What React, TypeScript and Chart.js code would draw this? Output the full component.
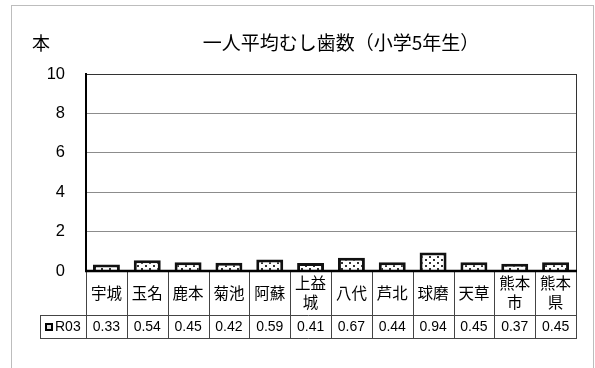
import React, { useEffect, useRef } from "react";
import { Chart, registerables } from "chart.js";

Chart.register(...registerables);

const categories: string[][] = [
  ["宇城"], ["玉名"], ["鹿本"], ["菊池"], ["阿蘇"], ["上益", "城"],
  ["八代"], ["芦北"], ["球磨"], ["天草"], ["熊本", "市"], ["熊本", "県"],
];
const seriesName = "R03";
const values = [0.33, 0.54, 0.45, 0.42, 0.59, 0.41, 0.67, 0.44, 0.94, 0.45, 0.37, 0.45];
const yTicks = [0, 2, 4, 6, 8, 10];
const title = "一人平均むし歯数（小学5年生）";
const yUnit = "本";

const CJK = '"Noto Sans CJK JP", "Noto Sans", sans-serif';
const LAT = '"Liberation Sans", Arial, sans-serif';

function makePattern(): CanvasPattern | string {
  const c = document.createElement("canvas");
  c.width = 8;
  c.height = 6;
  const g = c.getContext("2d");
  if (!g) return "#fff";
  g.fillStyle = "#ffffff";
  g.fillRect(0, 0, 8, 6);
  g.fillStyle = "#333333";
  g.fillRect(1, 1, 2, 2);
  g.fillRect(5, 4, 2, 2);
  const p = g.createPattern(c, "repeat");
  return p || "#fff";
}

const tablePlugin = {
  id: "dataTable",
  afterDraw(chart: any) {
    const ctx: CanvasRenderingContext2D = chart.ctx;
    const { left, right, top, bottom } = chart.chartArea;
    const x = chart.scales.x;
    const n = categories.length;
    const w = (right - left) / n;
    const row1 = bottom + 44;
    const row2 = row1 + 23;
    const legendLeft = 40;

    ctx.save();
    ctx.strokeStyle = "#bdbdbd";
    ctx.lineWidth = 1;
    ctx.strokeRect(11.5, 5.5, 582, 400);

    ctx.strokeStyle = "#333";
    ctx.lineWidth = 1;
    ctx.beginPath();
    ctx.moveTo(right + 0.5, top);
    ctx.lineTo(right + 0.5, bottom);
    ctx.stroke();

    ctx.strokeStyle = "#444";
    ctx.lineWidth = 1;
    ctx.beginPath();
    for (let i = 0; i <= n; i++) {
      const xx = Math.round(left + i * w) + 0.5;
      ctx.moveTo(xx, bottom);
      ctx.lineTo(xx, row2);
    }
    ctx.moveTo(legendLeft + 0.5, row1);
    ctx.lineTo(legendLeft + 0.5, row2);
    ctx.moveTo(legendLeft, row1 + 0.5);
    ctx.lineTo(right + 1, row1 + 0.5);
    ctx.moveTo(legendLeft, row2 + 0.5);
    ctx.lineTo(right + 1, row2 + 0.5);
    ctx.stroke();

    ctx.strokeStyle = "#000";
    ctx.lineWidth = 2.5;
    ctx.beginPath();
    ctx.moveTo(left - 1, bottom);
    ctx.lineTo(right + 1, bottom);
    ctx.stroke();

    ctx.fillStyle = "#000";
    ctx.textAlign = "center";
    ctx.textBaseline = "middle";
    ctx.font = `15.5px ${CJK}`;
    const mid1 = (bottom + row1) / 2;
    categories.forEach((lines, i) => {
      const cx = x.getPixelForValue(i);
      if (lines.length === 1) {
        ctx.fillText(lines[0], cx, mid1);
      } else {
        ctx.fillText(lines[0], cx, mid1 - 9.5);
        ctx.fillText(lines[1], cx, mid1 + 9.5);
      }
    });

    ctx.font = `14px ${LAT}`;
    const mid2 = (row1 + row2) / 2 + 0.5;
    values.forEach((v, i) => {
      ctx.fillText(v.toFixed(2), x.getPixelForValue(i), mid2);
    });

    ctx.fillStyle = "#000";
    ctx.fillRect(45, mid2 - 4, 8, 8);
    ctx.fillStyle = "#ddd";
    ctx.fillRect(47, mid2 - 2, 4, 4);
    ctx.fillStyle = "#000";
    ctx.textAlign = "left";
    ctx.font = `14px ${LAT}`;
    ctx.fillText(seriesName, 55, mid2);

    ctx.textAlign = "center";
    ctx.font = `19px ${CJK}`;
    ctx.fillText(title, (left + right) / 2 + 10, 43);
    ctx.font = `18px ${CJK}`;
    ctx.fillText(yUnit, 41, 43);
    ctx.restore();
  },
};

export default function App() {
  const ref = useRef<HTMLCanvasElement>(null);
  useEffect(() => {
    if (!ref.current) return;
    const pattern = makePattern();
    const chart = new Chart(ref.current, {
      type: "bar",
      data: {
        labels: categories.map((c) => c.join("")),
        datasets: [
          {
            label: seriesName,
            data: values,
            backgroundColor: pattern as any,
            borderColor: "#111",
            borderWidth: 3,
            barPercentage: 0.66,
            categoryPercentage: 1,
          },
        ],
      },
      options: {
        responsive: false,
        animation: false,
        layout: { padding: { left: 0, right: 19, top: 74, bottom: 97 } },
        plugins: { legend: { display: false }, title: { display: false }, tooltip: { enabled: false } },
        scales: {
          x: {
            display: false,
          },
          y: {
            min: 0,
            max: 10,
            afterFit: (s: any) => {
              s.width = 86;
            },
            afterBuildTicks: (s: any) => {
              s.ticks = yTicks.map((v) => ({ value: v }));
            },
            border: { display: true, color: "#000", width: 2 },
            grid: {
              drawTicks: false,
              color: (c: any) => (c.tick && c.tick.value === 10 ? "#333" : c.tick && c.tick.value === 0 ? "#000" : "#8c8c8c"),
              lineWidth: 1,
            },
            ticks: {
              padding: 21,
              color: "#000",
              font: { family: "Liberation Sans", size: 16.5 },
            },
          },
        },
      },
      plugins: [tablePlugin],
    });
    return () => chart.destroy();
  }, []);
  return (
    <canvas
      ref={ref}
      width={595}
      height={368}
      style={{ position: "absolute", left: 0, top: 0, width: 595, height: 368 }}
    />
  );
}
